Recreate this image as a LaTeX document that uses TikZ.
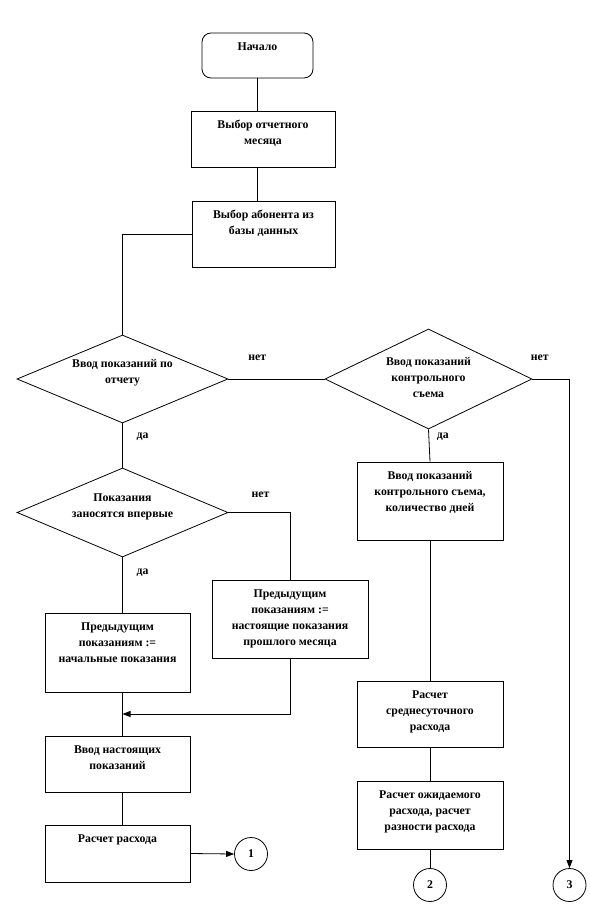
\documentclass[tikz,border=0pt]{standalone}
\usepackage{fontspec}
\setmainfont{Liberation Serif}
\usepackage{tikz}
\usetikzlibrary{shapes,arrows,arrows.meta,positioning,calc}
\newcommand{\boxtext}[3]{\parbox[c][#2pt][t]{#1pt}{\centering\vspace*{6pt}\strut#3}}

\begin{document}
\begin{tikzpicture}[x=1pt,y=-1pt,line width=0.8pt,
  every node/.style={font=\bfseries\fontsize{11.8}{16}\selectfont},
  box/.style={draw,inner sep=0pt},
  dia/.style={draw,diamond,inner sep=0pt},
  dtext/.style={align=center,inner sep=0pt},
  conn/.style={draw,circle,minimum size=33pt,inner sep=0pt},
  lbl/.style={inner sep=0pt},
  arr/.style={->,>={Triangle[length=8pt,width=6pt]}}]
\useasboundingbox (0,0) rectangle (589,915);
% left column
\node[box,rounded corners=9pt] (start) at (257.5,55.5) {\boxtext{111}{45}{Начало}};
\node[box] (b1) at (263,139) {\boxtext{144}{56}{Выбор отчетного\\месяца}};
\node[box] (b2) at (263.5,234) {\boxtext{143}{66}{Выбор абонента из\\базы данных}};
\node[dia,minimum width=211pt,minimum height=88pt] (d1) at (122.5,379) {};
\node[dtext] (d1t) at (122.5,373) {Ввод показаний по\\отчету};
\node[dia,minimum width=211pt,minimum height=89pt] (d3) at (122.5,512.5) {};
\node[dtext] (d3t) at (122.5,507) {Показания\\заносятся впервые};
\node[box] (bR) at (290,619) {\boxtext{156}{78}{Предыдущим\\показаниям :=\\настоящие показания\\прошлого месяца}};
\node[box] (bL) at (117.5,652.5) {\boxtext{145}{79}{Предыдущим\\показаниям :=\\начальные показания}};
\node[box] (bIn) at (117.5,764) {\boxtext{145}{56}{Ввод настоящих\\показаний}};
\node[box] (bCalc) at (117.5,853.5) {\boxtext{145}{57}{Расчет расхода}};
\node[conn] (c1) at (251,854) {1};
% right column
\node[dia,minimum width=207pt,minimum height=100pt] (d2) at (428.5,379) {};
\node[dtext] (d2t) at (428.5,377) {Ввод показаний\\контрольного\\съема};
\node[box] (bC1) at (430,501) {\boxtext{146}{78}{Ввод показаний\\контрольного съема,\\количество дней}};
\node[box] (bC2) at (430,714) {\boxtext{146}{66}{Расчет\\среднесуточного\\расхода}};
\node[box] (bC3) at (430,815) {\boxtext{146}{68}{Расчет ожидаемого\\расхода, расчет\\разности расхода}};
\node[conn] (c2) at (430,885) {2};
\node[conn] (c3) at (569.5,885) {3};
\coordinate (join) at ($(d3.south |- bL.south)!0.5!(d3.south |- bIn.north)$);
% connectors
\draw (start.south) -- (start.south |- b1.north);
\draw (start.south |- b1.south) -- (start.south |- b2.north);
\draw (b2.west) -| (d1.north);
\draw (d1.east) -- node[lbl,pos=0.3,yshift=21pt]{нет} (d2.west);
\draw[arr] (d2.east) -| node[lbl,pos=0.1,yshift=21pt]{нет} (c3.north);
\draw (d2.south) -- node[lbl,pos=0.24,xshift=14pt]{да} (bC1.north);
\draw (bC1.south) -- (bC2.north);
\draw (bC2.south) -- (bC3.north);
\draw (bC3.south) -- (c2.north);
\draw (d1.south) -- node[lbl,pos=0.31,xshift=20pt]{да} (d3.north);
\draw (d3.east) -| node[lbl,pos=0.26,yshift=18pt]{нет} (bR.north);
\draw (d3.south) -- node[lbl,pos=0.27,xshift=20pt]{да} (d3.south |- bL.north);
\draw (d3.south |- bL.south) -- (d3.south |- bIn.north);
\draw[arr] (bR.south) |- (join);
\draw (d3.south |- bIn.south) -- (d3.south |- bCalc.north);
\draw[arr] (bCalc.east) -- (c1.west);
\end{tikzpicture}
\end{document}
